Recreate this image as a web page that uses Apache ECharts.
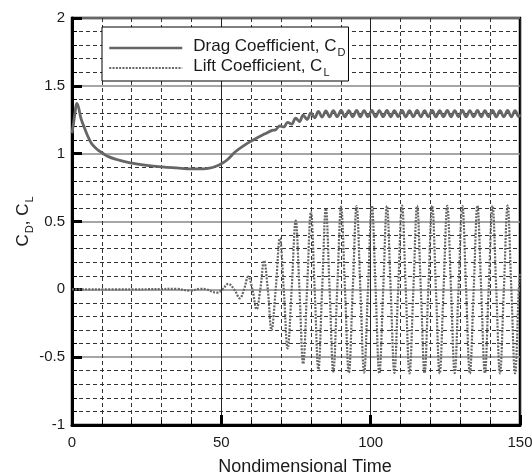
<!DOCTYPE html>
<html>
<head>
<meta charset="utf-8">
<script src="https://cdn.jsdelivr.net/npm/echarts@6/dist/echarts.min.js"></script>
<style>html,body{margin:0;padding:0;background:#fff}#c{width:532px;height:473px}</style>
</head>
<body>
<div id="c"></div>
<script>
// Drag coefficient (time, value)
var dragT = [0, 0.5, 1.0, 1.6, 2.2, 3.0, 4.0, 4.7, 5.8, 6.9, 8.5, 10.3, 12, 15, 18, 21, 25, 30, 35, 40, 44, 46, 48, 50, 52, 54.6, 57.9, 61.3, 64.6, 67.0,
  68.2, 69.6, 70.9, 72.2, 73.55, 74.9, 76.15, 77.4, 78.7, 80.0, 81.25, 82.5, 83.75, 85.0, 86.25, 87.5, 88.8, 90.1, 91.4, 92.7, 94.0, 95.3, 96.55, 97.8, 99.1,
  100.4, 101.65, 102.9, 104.2, 105.45, 106.7, 107.95, 109.2, 110.5, 111.75, 113.0, 114.3, 115.55, 116.8, 118.05, 119.3, 120.6, 121.85, 123.1, 124.4,
  125.65, 126.9, 128.15, 129.4, 130.7, 131.95, 133.2, 134.5, 135.75, 137.0, 138.25, 139.5, 140.8, 142.05, 143.3, 144.6, 145.85, 147.1, 148.35, 149.6, 150];
var dragV = [1.15, 1.22, 1.3, 1.37, 1.34, 1.26, 1.2, 1.16, 1.105, 1.064, 1.03, 1.003, 0.98, 0.957, 0.94, 0.927, 0.914, 0.903, 0.895, 0.888, 0.888, 0.893, 0.905, 0.925, 0.955, 1.012, 1.065, 1.108, 1.146, 1.172,
  1.177, 1.204, 1.197, 1.230, 1.218, 1.261, 1.237, 1.284, 1.252, 1.301, 1.264, 1.312, 1.270, 1.316, 1.272, 1.317, 1.273, 1.318, 1.272, 1.317, 1.273, 1.318, 1.272, 1.317, 1.273,
  1.318, 1.272, 1.317, 1.273, 1.318, 1.272, 1.317, 1.273, 1.318, 1.272, 1.317, 1.273, 1.318, 1.272, 1.317, 1.273, 1.318, 1.272, 1.317, 1.273,
  1.318, 1.272, 1.317, 1.273, 1.318, 1.272, 1.317, 1.273, 1.318, 1.272, 1.317, 1.273, 1.318, 1.272, 1.317, 1.273, 1.318, 1.272, 1.317, 1.273, 1.29];

// Lift coefficient (time, value)
var liftT = [0, 20, 35, 39.5, 43, 45, 48.4, 50.4, 52.3, 54.3, 56.2, 57.6, 59.0, 60.4, 61.8, 63.05, 64.3, 65.55, 66.8, 68.2, 69.6, 70.9, 72.2, 73.55, 74.9,
  76.15, 77.4, 78.7, 80.0, 81.25, 82.5, 83.75, 85.0, 86.25, 87.5, 88.8, 90.1, 91.4, 92.7, 94.0, 95.3, 96.55, 97.8, 99.1,
  100.4, 101.65, 102.9, 104.2, 105.45, 106.7, 107.95, 109.2, 110.5, 111.75, 113.0, 114.3, 115.55, 116.8, 118.05, 119.3, 120.6, 121.85, 123.1, 124.4,
  125.65, 126.9, 128.15, 129.4, 130.7, 131.95, 133.2, 134.5, 135.75, 137.0, 138.25, 139.5, 140.8, 142.05, 143.3, 144.6, 145.85, 147.1, 148.35, 149.6, 150];
var liftV = [0, 0, 0.003, -0.01, 0.004, 0, -0.025, 0, 0.04, 0, -0.066, 0, 0.093, 0, -0.147, 0, 0.211, 0, -0.30, 0, 0.376, 0, -0.435, 0, 0.506,
  0, -0.55, 0, 0.572, 0, -0.59, 0, 0.597, 0, -0.607, 0, 0.609, 0, -0.615, 0, 0.614, 0, -0.614, 0,
  0.617, 0, -0.62, 0, 0.615, 0, -0.616, 0, 0.618, 0, -0.62, 0, 0.615, 0, -0.618, 0, 0.617, 0, -0.62, 0,
  0.615, 0, -0.618, 0, 0.616, 0, -0.62, 0, 0.617, 0, -0.618, 0, 0.616, 0, -0.62, 0, 0.617, 0, -0.62, 0, 0.12];

var xTicks = [0, 50, 100, 150];
var yTicks = [-1, -0.5, 0, 0.5, 1, 1.5, 2];

function pairs(t, v) { return t.map(function (x, i) { return [x, v[i]]; }); }

var font = 'Liberation Sans, Arial, Helvetica, sans-serif';
var chart = echarts.init(document.getElementById('c'), null, { renderer: 'canvas' });
chart.setOption({
  animation: false,
  backgroundColor: '#fff',
  grid: { left: 72, right: 12, top: 18, bottom: 48, containLabel: false, outerBoundsMode: 'none',
    show: true, borderColor: '#000', borderWidth: 2.5, backgroundColor: 'transparent' },
  legend: {
    orient: 'vertical', left: 102, top: 27,
    backgroundColor: '#fff', borderColor: '#000', borderWidth: 1,
    padding: [11, 3, 3, 6], itemGap: 0, itemWidth: 73, itemHeight: 14,
    itemStyle: { color: 'rgba(0,0,0,0)', borderWidth: 0, opacity: 0 },
    data: [
      { name: 'drag', lineStyle: { color: '#666', width: 2.5 } },
      { name: 'lift', lineStyle: { color: '#666', width: 2, type: [2, 1.3] } }
    ],
    formatter: function (n) {
      return n === 'drag' ? '{g|}{a|Drag Coefficient, C}{s|D}' : '{g|}{a|Lift Coefficient, C}{s|L}';
    },
    textStyle: {
      rich: {
        g: { width: 6 },
        a: { fontSize: 17, fontFamily: font, color: '#1a1a1a', verticalAlign: 'top', lineHeight: 20 },
        s: { fontSize: 11, fontFamily: font, color: '#1a1a1a', verticalAlign: 'top', padding: [9, 0, 0, 1], lineHeight: 20 }
      }
    }
  },
  xAxis: {
    type: 'value', min: xTicks[0], max: xTicks[xTicks.length - 1], interval: 50,
    name: 'Nondimensional Time', nameLocation: 'middle', nameGap: 33, nameMoveOverlap: false,
    nameTextStyle: { fontSize: 18, fontFamily: font, color: '#1a1a1a', padding: [0, 0, 0, 18] },
    axisLine: { show: true, onZero: false, lineStyle: { color: '#000', width: 3 } },
    axisTick: { show: true, inside: true, length: 10, lineStyle: { color: '#000', width: 3 } },
    minorTick: { show: true, splitNumber: 5, length: 5, lineStyle: { color: '#000', width: 1 } },
    axisLabel: { fontSize: 15, fontFamily: font, color: '#1a1a1a', margin: 10 },
    splitLine: { show: true, lineStyle: { color: '#222', width: 1 } },
    minorSplitLine: { show: true, lineStyle: { color: '#333', width: 1, type: [4, 3] } }
  },
  yAxis: {
    type: 'value', min: yTicks[0], max: yTicks[yTicks.length - 1], interval: 0.5,
    name: '{a|C}{s|D}{a|, C}{s|L}', nameLocation: 'middle', nameGap: 38, nameRotate: 90, nameMoveOverlap: false,
    nameTextStyle: {
      rich: {
        a: { fontSize: 17, fontFamily: font, color: '#1a1a1a', verticalAlign: 'top', lineHeight: 19 },
        s: { fontSize: 11, fontFamily: font, color: '#1a1a1a', verticalAlign: 'top', padding: [9, 0, 0, 1], lineHeight: 19 }
      }
    },
    axisLine: { show: true, onZero: false, lineStyle: { color: '#000', width: 3 } },
    axisTick: { show: true, inside: true, length: 10, lineStyle: { color: '#000', width: 3 } },
    minorTick: { show: true, splitNumber: 5, length: 5, lineStyle: { color: '#000', width: 1 } },
    axisLabel: { fontSize: 15, fontFamily: font, color: '#1a1a1a', margin: 7,
      formatter: function (v) { return String(v); } },
    splitLine: { show: true, lineStyle: { color: '#888', width: 1.5 } },
    minorSplitLine: { show: true, lineStyle: { color: '#333', width: 1, type: [4, 3] } }
  },
  series: [
    { name: 'drag', type: 'line', data: pairs(dragT, dragV), symbol: 'none', smooth: 0.4,
      lineStyle: { color: '#666', width: 2.8 }, itemStyle: { color: '#666' }, z: 3 },
    { name: 'lift', type: 'line', data: pairs(liftT, liftV), symbol: 'none', smooth: 0.4,
      lineStyle: { color: '#666', width: 2.2, type: [2, 1.3] }, itemStyle: { color: '#666' }, z: 2 }
  ]
});
</script>
</body>
</html>
